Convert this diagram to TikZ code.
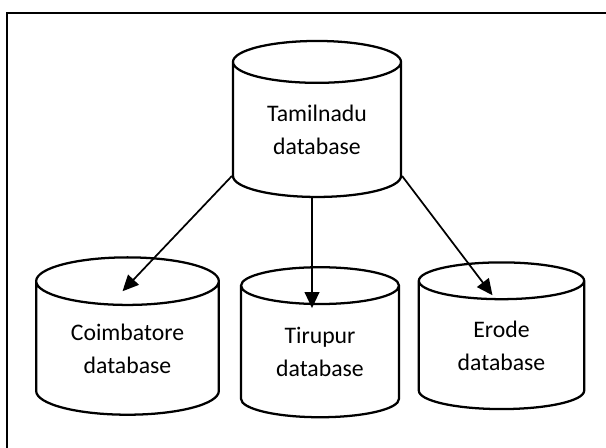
\documentclass[tikz,border=0pt]{standalone}
\usepackage{fontspec}
\setmainfont{Carlito}
\usetikzlibrary{arrows.meta, shapes.geometric, positioning, calc}

\begin{document}
\begin{tikzpicture}[x=0.75pt, y=-0.75pt,
  db/.style={cylinder, shape border rotate=90, draw, line width=1.7pt, aspect=0.42,
    align=center, inner sep=0pt, font=\fontsize{17.8}{24.8}\selectfont},
  link/.style={-{Triangle[length=12pt, width=11pt]}, line width=1.3pt}]
\useasboundingbox (0,0) rectangle (606,448);
\draw[line width=1.6pt] (7,448) -- (7,13) -- (606,13);

% databases
\node[db, minimum width=126pt, minimum height=117pt] (tn) at (317,130) {Tamilnadu\\database};
\node[db, minimum width=137pt, minimum height=118pt] (cb) at (127.5,348.5) {Coimbatore\\database};
\node[db, minimum width=118.5pt, minimum height=112.5pt] (tp) at (320,352) {Tirupur\\database};
\node[db, minimum width=124pt, minimum height=110pt] (er) at (501.5,345.5) {Erode\\database};

% links
\draw[link] (tn.after bottom) -- ($(cb.north)+(-5,35)$);
\draw[link] ($(tn.south)+(-5,0)$) -- ($(tp.north)+(-8,42)$);
\draw[link] (tn.before bottom) -- ($(er.north)+(-9,34)$);
\end{tikzpicture}
\end{document}
